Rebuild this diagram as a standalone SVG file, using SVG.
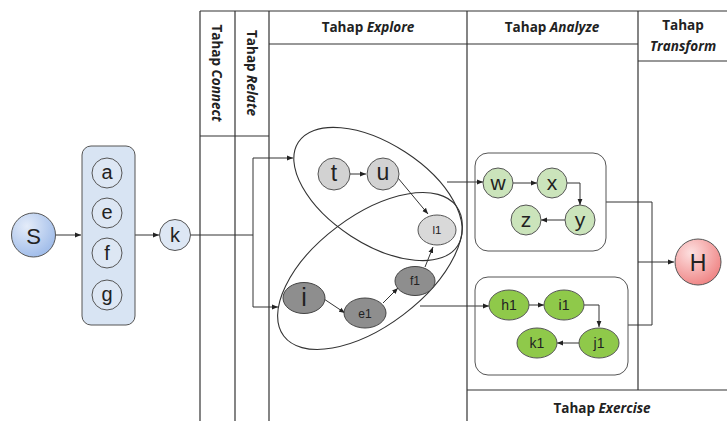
<svg xmlns="http://www.w3.org/2000/svg" width="727" height="421" viewBox="0 0 727 421">
<defs>
<marker id="ah" viewBox="0 0 10 10" refX="10" refY="5" markerWidth="6" markerHeight="6" orient="auto" markerUnits="userSpaceOnUse"><path d="M0,1 L10,5 L0,9 Z" fill="#222"/></marker>
<radialGradient id="gS" cx="0.35" cy="0.3" r="0.8"><stop offset="0" stop-color="#e4ecf9"/><stop offset="1" stop-color="#9ab8e8"/></radialGradient>
<radialGradient id="gH" cx="0.35" cy="0.3" r="0.8"><stop offset="0" stop-color="#fde0e0"/><stop offset="1" stop-color="#ee7d7d"/></radialGradient>
<style>
.frame{fill:none;stroke:#333;stroke-width:1.2}
.hdr{font-family:"Open Sans","Liberation Sans",sans-serif;font-weight:bold;font-size:13.5px;fill:#222}
.it{font-style:italic}
.con{fill:none;stroke:#333;stroke-width:1}
.arr{fill:none;stroke:#333;stroke-width:1;marker-end:url(#ah)}
.lbl{font-family:"Liberation Sans",Arial,sans-serif;fill:#222;text-anchor:middle;dominant-baseline:central}
.blue{fill:#dde7f4;stroke:#555;stroke-width:1}
.gl{fill:#d2d2d2;stroke:#555;stroke-width:1}
.gd{fill:#8e8e8e;stroke:#444;stroke-width:1}
.g1{fill:#cbe4bb;stroke:#555;stroke-width:1}
.g2{fill:#8fc94a;stroke:#555;stroke-width:1}
.grp{fill:none;stroke:#333;stroke-width:1.1}
</style>
</defs>

<g id="columns">
<line class="frame" x1="200" y1="11" x2="727" y2="11"/>
<line class="frame" x1="200" y1="11" x2="200" y2="421"/>
<line class="frame" x1="235" y1="11" x2="235" y2="421"/>
<line class="frame" x1="269" y1="11" x2="269" y2="421"/>
<line class="frame" x1="467" y1="11" x2="467" y2="421"/>
<line class="frame" x1="638" y1="11" x2="638" y2="390"/>
<line class="frame" x1="200" y1="136" x2="269" y2="136"/>
<line class="frame" x1="269" y1="44" x2="638" y2="44"/>
<line class="frame" x1="638" y1="61" x2="727" y2="61"/>
<line class="frame" x1="467" y1="390" x2="727" y2="390"/>
<text class="hdr" transform="translate(217,73) rotate(90)" text-anchor="middle" dominant-baseline="central" font-size="14.5">Tahap <tspan class="it">Connect</tspan></text>
<text class="hdr" transform="translate(252,73) rotate(90)" text-anchor="middle" dominant-baseline="central" font-size="14.5">Tahap <tspan class="it">Relate</tspan></text>
<text class="hdr" x="368" y="32" text-anchor="middle">Tahap <tspan class="it">Explore</tspan></text>
<text class="hdr" x="552" y="32" text-anchor="middle">Tahap <tspan class="it">Analyze</tspan></text>
<text class="hdr" x="683" y="30" text-anchor="middle">Tahap</text>
<text class="hdr it" x="683" y="51" text-anchor="middle">Transform</text>
<text class="hdr" x="602" y="413" text-anchor="middle">Tahap <tspan class="it">Exercise</tspan></text>
</g>

<g id="connectors">
<line class="arr" x1="56" y1="235" x2="81" y2="235"/>
<line class="arr" x1="135" y1="235" x2="159" y2="235"/>
<path class="con" d="M191,235 H253 M253,158 V307"/>
<line class="arr" x1="253" y1="158" x2="293" y2="158"/>
<line class="arr" x1="253" y1="307" x2="278" y2="307"/>
<line class="arr" x1="350" y1="174" x2="366" y2="174"/>
<line class="arr" x1="398" y1="178" x2="428" y2="214"/>
<line class="arr" x1="425" y1="267" x2="433" y2="247"/>
<line class="arr" x1="324" y1="299" x2="345" y2="313"/>
<line class="arr" x1="383" y1="303" x2="398" y2="288"/>
<line class="arr" x1="447" y1="182" x2="483" y2="182"/>
<line class="arr" x1="420" y1="306" x2="489" y2="306"/>
<line class="arr" x1="513" y1="183" x2="537" y2="183"/>
<path class="arr" d="M567,183 H580 V205"/>
<line class="arr" x1="565" y1="220" x2="541" y2="220"/>
<line class="arr" x1="529" y1="305" x2="544" y2="305"/>
<path class="arr" d="M584,305 H599 V327"/>
<line class="arr" x1="579" y1="343" x2="557" y2="343"/>
<path class="con" d="M606,202 H652 V325 H628"/>
<line class="arr" x1="638" y1="262" x2="674" y2="262"/>
</g>

<g id="S"><circle cx="33.5" cy="235" r="22" fill="url(#gS)" stroke="#555" stroke-width="1"/><text class="lbl" x="33.5" y="236" font-size="22">S</text></g>

<g id="group-aefg">
<rect x="82" y="146" width="53" height="179" rx="9" fill="#d8e4f3" stroke="#555" stroke-width="1"/>
<g id="a"><circle class="blue" cx="107" cy="173" r="15"/><text class="lbl" x="107" y="172" font-size="20">a</text></g>
<g id="e"><circle class="blue" cx="107" cy="213" r="15"/><text class="lbl" x="107" y="212" font-size="20">e</text></g>
<g id="f"><circle class="blue" cx="107" cy="253" r="15"/><text class="lbl" x="107" y="253" font-size="20">f</text></g>
<g id="g"><circle class="blue" cx="107" cy="295" r="15"/><text class="lbl" x="107" y="294" font-size="20">g</text></g>
</g>

<g id="k"><circle class="blue" cx="175" cy="235" r="15.5"/><text class="lbl" x="175" y="235" font-size="20">k</text></g>

<g id="explore-top"><ellipse class="grp" cx="378" cy="194" rx="95" ry="50" transform="rotate(33 378 194)"/></g>
<g id="explore-bottom"><ellipse class="grp" cx="370" cy="271" rx="108" ry="55" transform="rotate(-37 370 271)"/></g>

<g id="t"><circle class="gl" cx="334" cy="174" r="16"/><text class="lbl" x="334" y="173" font-size="23">t</text></g>
<g id="u"><circle class="gl" cx="383" cy="174" r="16"/><text class="lbl" x="383" y="172" font-size="23">u</text></g>
<g id="l1"><ellipse cx="437" cy="230" rx="19" ry="15" fill="#d9d9d9" stroke="#555" stroke-width="1"/><text class="lbl" x="437" y="230" font-size="11.5">l1</text></g>
<g id="i"><ellipse class="gd" cx="304" cy="298" rx="21" ry="15.5"/><text class="lbl" x="304" y="297" font-size="25">i</text></g>
<g id="e1"><ellipse class="gd" cx="365" cy="313" rx="21" ry="15"/><text class="lbl" x="365" y="314" font-size="12">e1</text></g>
<g id="f1"><ellipse class="gd" cx="415" cy="281" rx="20" ry="14.5"/><text class="lbl" x="415" y="281" font-size="12">f1</text></g>

<g id="analyze-top"><rect x="475" y="153" width="131" height="98" rx="13" fill="none" stroke="#555" stroke-width="1"/></g>
<g id="w"><circle class="g1" cx="498" cy="183" r="15"/><text class="lbl" x="498" y="182" font-size="21">w</text></g>
<g id="x"><circle class="g1" cx="552" cy="183" r="15"/><text class="lbl" x="552" y="182" font-size="21">x</text></g>
<g id="y"><circle class="g1" cx="580" cy="220" r="15"/><text class="lbl" x="580" y="219" font-size="21">y</text></g>
<g id="z"><circle class="g1" cx="526" cy="220" r="15"/><text class="lbl" x="526" y="219" font-size="21">z</text></g>

<g id="analyze-bottom"><rect x="475" y="277" width="153" height="98" rx="13" fill="none" stroke="#555" stroke-width="1"/></g>
<g id="h1"><ellipse class="g2" cx="509" cy="305" rx="20" ry="15"/><text class="lbl" x="509" y="305" font-size="14">h1</text></g>
<g id="i1"><ellipse class="g2" cx="564" cy="305" rx="20" ry="15"/><text class="lbl" x="564" y="305" font-size="14">i1</text></g>
<g id="j1"><ellipse class="g2" cx="599" cy="343" rx="20" ry="15"/><text class="lbl" x="599" y="343" font-size="14">j1</text></g>
<g id="k1"><ellipse class="g2" cx="537" cy="343" rx="20" ry="15"/><text class="lbl" x="537" y="343" font-size="14">k1</text></g>

<g id="H"><circle cx="698" cy="262" r="23" fill="url(#gH)" stroke="#555" stroke-width="1"/><text class="lbl" x="698" y="263" font-size="23">H</text></g>
</svg>
